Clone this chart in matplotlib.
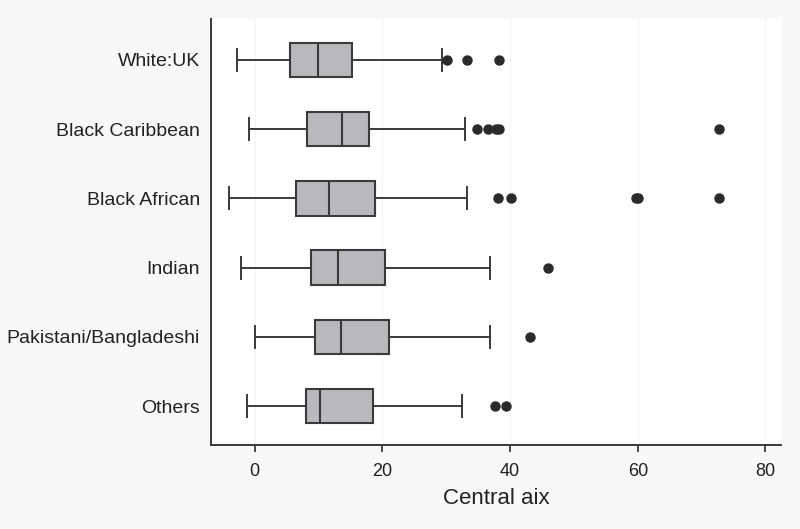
import matplotlib
matplotlib.use("Agg")
from matplotlib import pyplot as plt

plt.rcParams['font.family'] = ['Liberation Sans', 'DejaVu Sans']

# groups, top to bottom
groups = ["White:UK", "Black Caribbean", "Black African", "Indian",
          "Pakistani/Bangladeshi", "Others"]

# box statistics
whis_lo = [-2.7, -0.9, -4.0, -2.2, 0.0, -1.2]
q1 = [5.5, 8.2, 6.5, 8.9, 9.4, 8.0]
median = [9.9, 13.7, 11.7, 13.0, 13.6, 10.3]
q3 = [15.3, 17.9, 18.9, 20.4, 21.0, 18.5]
whis_hi = [29.4, 32.9, 33.3, 36.9, 36.9, 32.5]
outliers = [
    [30.1, 33.3, 38.2],
    [34.8, 36.5, 37.8, 38.3, 72.8],
    [38.1, 40.1, 59.7, 60.0, 72.8],
    [45.9],
    [43.2],
    [37.6, 39.3],
]

stats = []
for i in range(len(groups)):
    stats.append(dict(label=groups[i], whislo=whis_lo[i], q1=q1[i], med=median[i],
                      q3=q3[i], whishi=whis_hi[i], fliers=outliers[i]))

line_col = "#3a3a3a"
fig = plt.figure(figsize=(8, 5.29), dpi=100, facecolor="#f7f8f8")
ax = fig.add_axes([0.264, 0.159, 0.712, 0.805])
ax.set_facecolor("white")

pos = list(range(1, len(groups) + 1))
ax.bxp(stats, positions=pos, vert=False, widths=0.5, patch_artist=True,
       capwidths=0.32,
       boxprops=dict(facecolor="#b9b9bd", edgecolor=line_col, linewidth=1.5),
       medianprops=dict(color=line_col, linewidth=1.5),
       whiskerprops=dict(color=line_col, linewidth=1.4),
       capprops=dict(color=line_col, linewidth=1.4),
       flierprops=dict(marker="o", markerfacecolor="#2a2a2a", markeredgecolor="#2a2a2a",
                       markersize=6.5))

ax.set_ylim(6.56, 0.41)
ax.set_xlim(-6.8, 82.4)
ax.set_xticks([0, 20, 40, 60, 80])
ax.set_yticks(pos)
ax.set_yticklabels(groups, fontsize=14, color="#222222")
ax.tick_params(axis="y", length=0, pad=8)
ax.tick_params(axis="x", length=5, width=1.3, color=line_col, labelsize=13,
               labelcolor="#222222", pad=8)
ax.xaxis.grid(True, color="#f4f4f4", linewidth=0.8)
ax.set_axisbelow(True)
for s in ["top", "right"]:
    ax.spines[s].set_visible(False)
for s in ["left", "bottom"]:
    ax.spines[s].set_color(line_col)
    ax.spines[s].set_linewidth(1.4)
ax.set_xlabel("Central aix", fontsize=16, color="#222222", labelpad=6)

fig.savefig("out.png", dpi=100, facecolor=fig.get_facecolor())
